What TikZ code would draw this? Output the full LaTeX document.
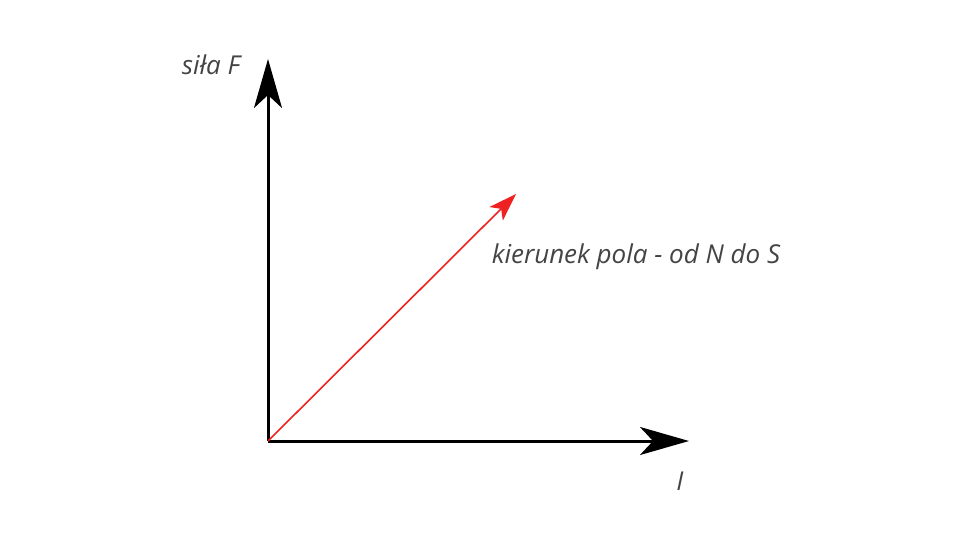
\documentclass[tikz,border=0pt]{standalone}
\usepackage{fontspec}
\setmainfont{Open Sans}
\usetikzlibrary{arrows.meta}
\definecolor{txt}{HTML}{444444}
\definecolor{redarrow}{HTML}{EE2222}
\begin{document}
\begin{tikzpicture}[x=1pt,y=-1pt,
  axis/.style={line width=3pt,-{Stealth[length=49pt,width=28pt,inset=13pt]}},
  fieldarrow/.style={line width=1.6pt,redarrow,-{Stealth[length=28pt,width=19pt,inset=7pt]}},
  lbl/.style={font=\fontsize{26}{30}\selectfont\itshape,text=txt,inner sep=0pt}]
\useasboundingbox (0,0) rectangle (960,540);
\coordinate (O) at (268,441);
\coordinate (Ftip) at (268,59);
\coordinate (Itip) at (689,441);
\coordinate (Btip) at (516,194);
\draw[axis] (O) -- (Ftip);
\draw[axis] (O) -- (Itip);
\draw[fieldarrow] (O) -- (Btip);
\node[lbl] (F) at (211,65) {siła F};
\node[lbl] (B) at (636,257) {kierunek pola - od N do S};
\node[lbl] (I) at (680,481) {I};
\end{tikzpicture}
\end{document}
